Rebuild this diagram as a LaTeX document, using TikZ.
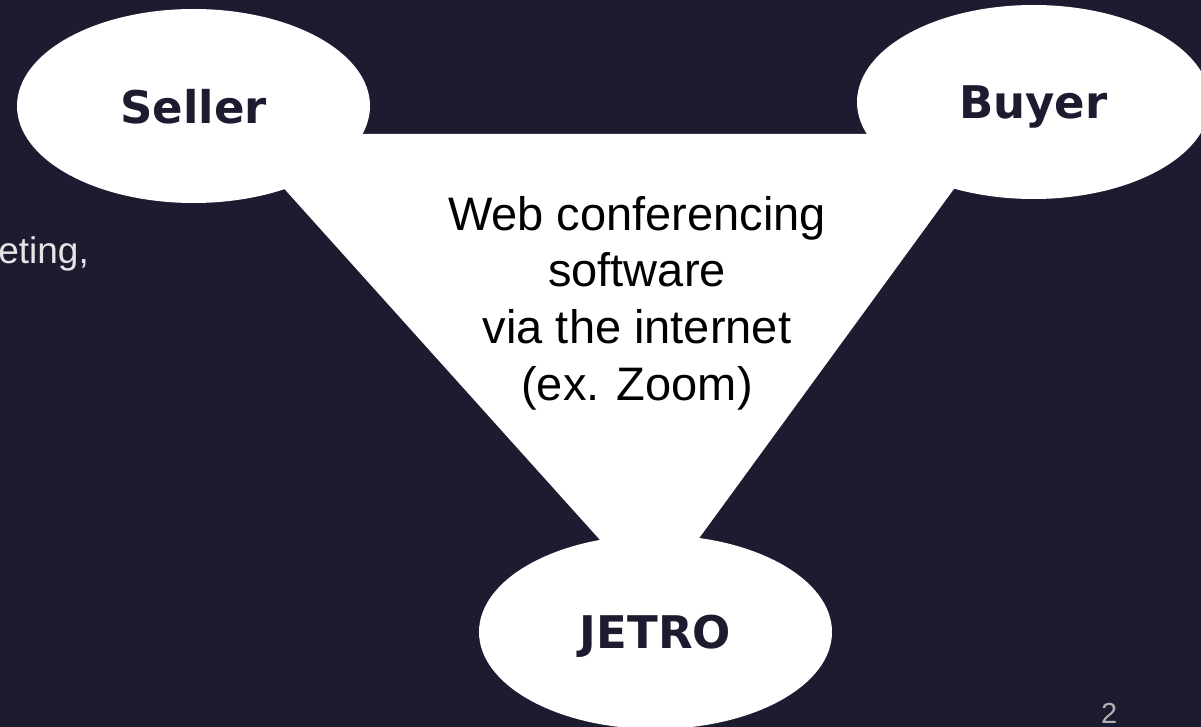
\documentclass[tikz,border=0pt]{standalone}
\usepackage{fontspec}
\setmainfont{Liberation Sans}
\newfontfamily\partyfont{DejaVu Sans}[BoldFont={DejaVu Sans Bold}]
\usetikzlibrary{shapes.geometric}
\definecolor{bgnavy}{RGB}{29,27,48}
\tikzset{party/.style={ellipse, fill=white, minimum width=353pt, minimum height=194pt, inner sep=0pt,
    text=bgnavy, text depth=0pt, font=\partyfont\bfseries\fontsize{45}{54}\selectfont}}

\begin{document}
\begin{tikzpicture}[x=1pt, y=-1pt]
    \clip (0,0) rectangle (1201,727);
    \fill[bgnavy] (0,0) rectangle (1201,727);
    % white triangle behind the three parties
    \coordinate (tl) at (235,134);
    \coordinate (tr) at (994,134);
    \coordinate (bt) at (654,600);
    \fill[white] (tl) -- (tr) -- (bt) -- cycle;
    \node[party] (seller) at (193.5,106) {Seller};
    \node[party] (buyer) at (1033.5,102) {Buyer};
    \node[party] (jetro) at (655.5,632) {JETRO};
    \node[align=center, font=\fontsize{47}{56.7}\selectfont] (tool) at (637,303)
        {Web conferencing\\software\\via the internet\\(ex. Zoom)};
    \node[anchor=base east, inner sep=0pt, text=white!88!bgnavy, font=\fontsize{37}{44}\selectfont] (cut) at (89,263) {eting,};
    \node[anchor=base west, inner sep=0pt, text=gray!60!white, font=\fontsize{29}{34}\selectfont] (pgno) at (1101,723) {2};
\end{tikzpicture}
\end{document}
